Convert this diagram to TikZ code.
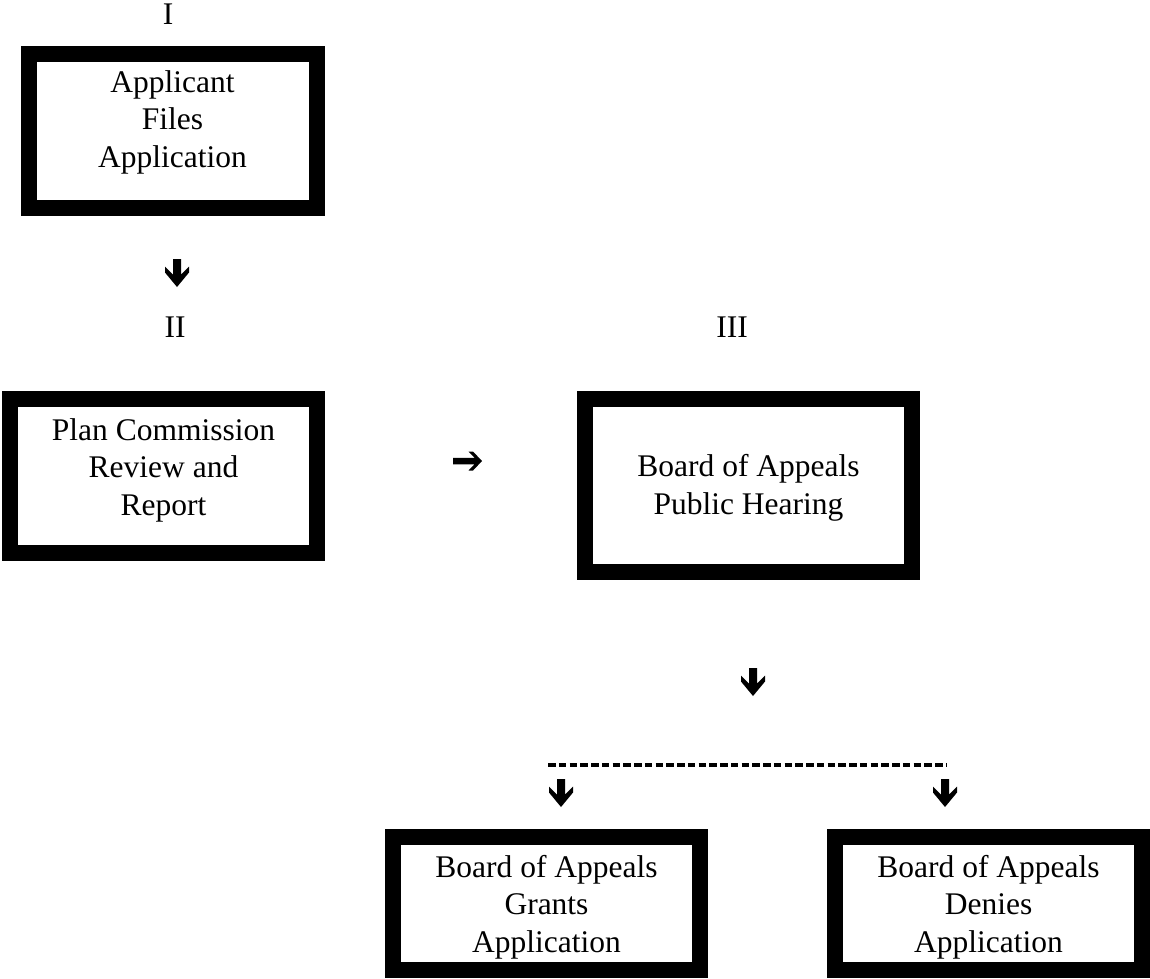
\documentclass[tikz,border=0pt]{standalone}
\usepackage{fontspec}
\setmainfont{Liberation Serif}
\begin{document}
\begin{tikzpicture}[x=1pt,y=-1pt,
  box/.style={draw=black,line width=16pt,fill=white,inner sep=0pt},
  txt/.style={align=center,inner sep=0pt,font=\fontsize{31.5}{37.5}\selectfont},
  dashline/.style={draw=black,line width=4.5pt,dash pattern=on 7.5pt off 3.25pt},
  downarrow/.pic={\fill[black] (-4,0) -- (4,0) -- (4,15.5) -- (12,7.5) -- (12,13.5) -- (0,28) -- (-12,13.5) -- (-12,7.5) -- (-4,15.5) -- cycle;},
  rightarrow/.pic={\fill[black] (0,-3.25) -- (21.5,-3.25) -- (15.5,-9.5) -- (20,-9.5) -- (29,0) -- (20,9.5) -- (15.5,9.5) -- (21.5,3.25) -- (0,3.25) -- cycle;}
]
\useasboundingbox (0,0) rectangle (1150,978);
\fill[white] (0,0) rectangle (1150,978);

% boxes
\node[box,minimum width=288pt,minimum height=154pt] (b1) at (173,131) {};
\node[box,minimum width=307pt,minimum height=154pt] (b2) at (163.5,476) {};
\node[box,minimum width=327pt,minimum height=173pt] (b3) at (748.5,485.5) {};
\node[box,minimum width=307pt,minimum height=133pt] (b4) at (546.5,903.5) {};
\node[box,minimum width=307pt,minimum height=133pt] (b5) at (988.5,903.5) {};

% box texts
\node[txt] (t1) at (172.5,122.4) {Applicant\\Files\\Application};
\node[txt] (t2) at (163.5,470) {Plan Commission\\Review and\\Report};
\node[txt] (t3) at (748.5,488) {Board of Appeals\\Public Hearing};
\node[txt] (t4) at (546.5,907) {Board of Appeals\\Grants\\Application};
\node[txt] (t5) at (988.5,907) {Board of Appeals\\Denies\\Application};

% roman numerals
\node[txt] (n1) at (168,14) {I};
\node[txt] (n2) at (175,327) {II};
\node[txt] (n3) at (732,327) {III};

% arrows
\pic (a1) at (177,259) {downarrow};
\pic (a2) at (453,461) {rightarrow};
\pic (a3) at (753,668) {downarrow};
\pic (a4) at (561,779) {downarrow};
\pic (a5) at (945,779) {downarrow};

% dashed line
\coordinate (dl) at (548,765);
\coordinate (dr) at (947,765);
\draw[dashline] (dl) -- (dr);
\end{tikzpicture}
\end{document}
